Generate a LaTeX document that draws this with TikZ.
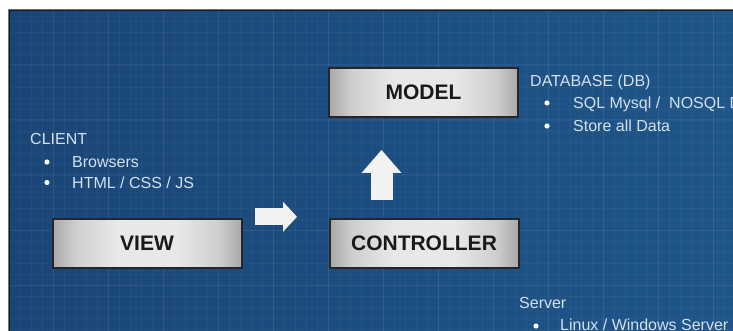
\documentclass[tikz,border=0pt]{standalone}
\usepackage{fontspec}
\setmainfont{Liberation Sans}
\usetikzlibrary{arrows.meta,shadows}
\definecolor{bgL}{HTML}{1A4677}
\definecolor{bgM}{HTML}{2C6CA0}
\definecolor{bgR}{HTML}{1F5589}
\definecolor{txtc}{HTML}{D4E1ED}
\definecolor{boxedge}{HTML}{A8A8A8}
\definecolor{boxmid}{HTML}{E8E8E8}
\definecolor{arrowc}{HTML}{F2F2F0}
\pgfdeclarehorizontalshading{boxshade}{100bp}{color(0bp)=(boxedge); color(25bp)=(boxedge); color(31bp)=(boxedge!40!boxmid); color(42bp)=(boxmid); color(58bp)=(boxmid); color(69bp)=(boxedge!40!boxmid); color(75bp)=(boxedge); color(100bp)=(boxedge)}
\tikzset{
  mvcbox/.style={draw=black!85, line width=2pt, shading=boxshade, shading angle=0,
    minimum width=189pt, minimum height=49pt, inner sep=0pt,
    font=\fontsize{21}{24}\selectfont\bfseries, text=black!90,
    drop shadow={shadow xshift=1.2pt, shadow yshift=-1.2pt, opacity=.35, fill=black}},
  txt/.style={anchor=base west, inner sep=0pt, text=txtc, font=\fontsize{16}{19}\selectfont},
  dot/.style={circle, fill=white, inner sep=0pt, minimum size=5.2pt},
  blockarrow/.style={draw=arrowc, line width=#1, line cap=butt},
}
\begin{document}
\begin{tikzpicture}[x=1pt,y=-1pt]
\useasboundingbox (0,0) rectangle (733,331);
\clip (0,0) rectangle (733,331);
\fill[white] (0,0) rectangle (733,331);
% background panel
\shade[left color=bgL, middle color=bgM, right color=bgR] (9,10) rectangle (740,340);
% faint grid
\foreach \gx in {20,31,...,733} {\draw[white, opacity=.035, line width=.6pt] (\gx,10) -- (\gx,331);}
\foreach \gy in {21,32,...,331} {\draw[white, opacity=.035, line width=.6pt] (9,\gy) -- (733,\gy);}
\foreach \gx in {53,108,...,733} {\draw[white, opacity=.05, line width=1pt] (\gx,10) -- (\gx,331);}
\foreach \gy in {65,120,...,331} {\draw[white, opacity=.05, line width=1pt] (9,\gy) -- (733,\gy);}
\draw[black!55, line width=.6pt] (8.2,340) -- (8.2,9.2) -- (740,9.2);
\draw[black!90, line width=1.4pt] (9.5,340) -- (9.5,10.5) -- (740,10.5);

% boxes
\node[mvcbox] (model) at (423.5,92.5) {MODEL};
\node[mvcbox] (view) at (147,243.5) {VIEW};
\node[mvcbox] (controller) at (424,243.5) {CONTROLLER};

% block arrows
\coordinate (r0) at (255,216.8);
\coordinate (r1) at (297,216.8);
\coordinate (u0) at (381.5,200);
\coordinate (u1) at (381.5,150);
\draw[blockarrow=17pt, -{Triangle[width=30pt,length=14pt,line width=0pt]}, arrowc] (r0) -- (r1);
\draw[blockarrow=22pt, -{Triangle[width=40pt,length=23pt,line width=0pt]}, arrowc] (u0) -- (u1);

% DATABASE text
\node[txt] (db) at (530,87) {DATABASE (DB)};
\node[dot] (dbb1) at (547,103) {};
\node[txt] (db1) at (573,108.5) {SQL Mysql /\ \ NOSQL DB};
\node[dot] (dbb2) at (547,126) {};
\node[txt] (db2) at (573,131.5) {Store all Data};

% CLIENT text
\node[txt] (client) at (30,145) {CLIENT};
\node[dot] (clb1) at (47,162) {};
\node[txt] (cl1) at (72,167.5) {Browsers};
\node[dot] (clb2) at (47,182.5) {};
\node[txt] (cl2) at (72,188.5) {HTML / CSS / JS};

% Server text
\node[txt] (server) at (519,308) {Server};
\node[dot] (svb1) at (536,326) {};
\node[txt] (sv1) at (560,330.5) {Linux / Windows Server};
\end{tikzpicture}
\end{document}
